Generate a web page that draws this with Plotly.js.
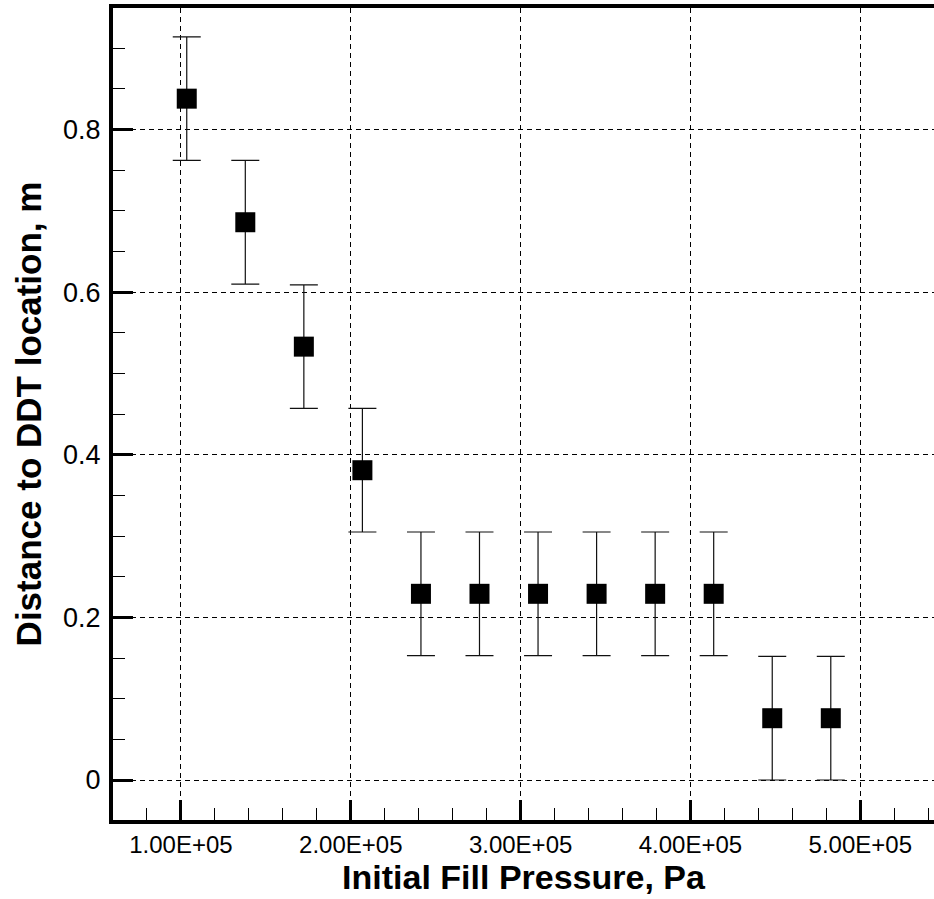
<!DOCTYPE html>
<html>
<head>
<meta charset="utf-8">
<script src="https://cdn.plot.ly/plotly-3.0.1.min.js"></script>
<style>html,body{margin:0;padding:0;background:#fff;}#chart{width:934px;height:899px;}</style>
</head>
<body>
<div id="chart"></div>
<script>
// Initial fill pressure, Pa
const pressure = [103421, 137895, 172369, 206843, 241317, 275790, 310264, 344738, 379212, 413685, 448159, 482633];
// Distance to DDT location, m
const distance = [0.838, 0.686, 0.533, 0.381, 0.229, 0.229, 0.229, 0.229, 0.229, 0.229, 0.076, 0.076];
// Error (+/-), m
const errorVal = [0.076, 0.076, 0.076, 0.076, 0.076, 0.076, 0.076, 0.076, 0.076, 0.076, 0.076, 0.076];
const xTickVals = [100000, 200000, 300000, 400000, 500000];
const xTickText = ["1.00E+05", "2.00E+05", "3.00E+05", "4.00E+05", "5.00E+05"];
const yTickVals = [0, 0.2, 0.4, 0.6, 0.8];
const yTickText = ["0", "0.2", "0.4", "0.6", "0.8"];

const trace = {
  x: pressure,
  y: distance,
  type: 'scatter',
  mode: 'markers',
  marker: {symbol: 'square', size: 20, color: '#000'},
  error_y: {type: 'data', array: errorVal, visible: true, color: '#111', thickness: 1.2, width: 14},
  showlegend: false,
  cliponaxis: false
};

const font = "Liberation Sans, Arial, sans-serif";
const layout = {
  width: 934, height: 899,
  margin: {l: 113, r: 0, t: 8, b: 79},
  paper_bgcolor: '#fff', plot_bgcolor: '#fff',
  font: {family: font, color: '#000'},
  xaxis: {
    range: [60000, 543400],
    tickmode: 'array', tickvals: xTickVals, ticktext: xTickText,
    ticks: 'inside', ticklen: 20, tickwidth: 3, tickcolor: '#000',
    tickfont: {family: font, size: 24, color: '#000'},
    showline: true, linewidth: 4, linecolor: '#000', mirror: true,
    showgrid: true, gridcolor: '#000', gridwidth: 1, griddash: '5px,4px',
    zeroline: false,
    minor: {dtick: 20000, tick0: 0, ticks: 'inside', ticklen: 12, tickwidth: 1, tickcolor: '#000', showgrid: false},
    title: {text: 'Initial Fill Pressure, Pa', font: {family: font, size: 34, color: '#000', weight: 'bold'}, standoff: 6},
    automargin: false
  },
  yaxis: {
    range: [-0.0492, 0.9495],
    tickmode: 'array', tickvals: yTickVals, ticktext: yTickText,
    ticks: 'inside', ticklen: 20, tickwidth: 3, tickcolor: '#000',
    tickfont: {family: font, size: 27, color: '#000'},
    ticklabelstandoff: 3,
    showline: true, linewidth: 4, linecolor: '#000', mirror: false,
    showgrid: true, gridcolor: '#000', gridwidth: 1, griddash: '5px,4px',
    zeroline: false,
    minor: {dtick: 0.05, tick0: 0, ticks: 'inside', ticklen: 12, tickwidth: 1, tickcolor: '#000', showgrid: false},
    title: {text: 'Distance to DDT location, m', font: {family: font, size: 35, color: '#000', weight: 'bold'}, standoff: 12},
    automargin: false
  }
};

Plotly.newPlot('chart', [trace], layout, {displayModeBar: false, staticPlot: true});
</script>
</body>
</html>
